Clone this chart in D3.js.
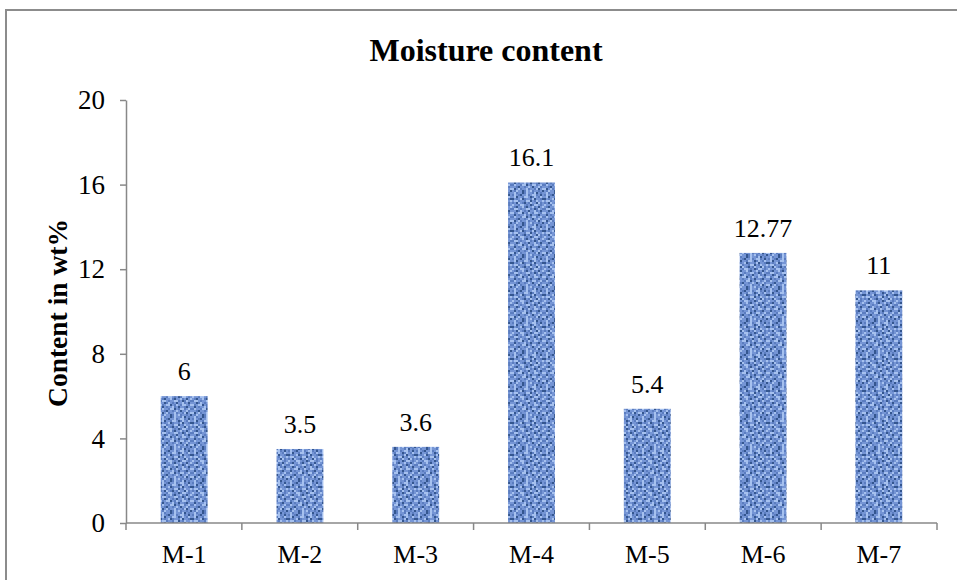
<!DOCTYPE html>
<html><head><meta charset="utf-8">
<script src="https://cdn.jsdelivr.net/npm/d3@7"></script>
<style>body{margin:0;background:#fff}svg{display:block}svg text{font-family:"Liberation Serif","Times New Roman",serif}</style>
</head><body>
<svg id="chart" width="957" height="580"></svg>
<script>
const categories = ["M-1","M-2","M-3","M-4","M-5","M-6","M-7"];
const values = [6, 3.5, 3.6, 16.1, 5.4, 12.77, 11];
const valueLabels = ["6","3.5","3.6","16.1","5.4","12.77","11"];
const yTicks = [0,4,8,12,16,20];
const title = "Moisture content";
const yTitle = "Content in wt%";

const svg = d3.select("#chart");
const W = 957, H = 580;
const m = {left:126, right:20, top:100, bottom:57};
const font = "Liberation Serif, Times New Roman, serif";

// border
svg.append("rect").attr("x",6).attr("y",10).attr("width",W+20).attr("height",H+20)
  .attr("fill","none").attr("stroke","#8c8c8c").attr("stroke-width",2);

// texture pattern (woven blue)
const defs = svg.append("defs");
const cs = 2;
const tile = [
 "BACBBDCABBCADBCB",
 "CABCDBBACBAACBDB",
 "BADBBCAABDCABCAB",
 "DBCBADCBBCADBBCD",
 "BAACBBCAADBCABBA",
 "CBDABCDBCABBDACB",
 "ABBCAABCBDCAABCB",
 "BCDBBACDBBACBDBA",
 "CAABCBBAACBDCABC",
 "BBDCABCBDBBACBDB",
 "ACBAADBCABCAABCA",
 "BDBCBBACBDBBCDBB",
 "CABBCAADBCAACBAC",
 "BBCDBBCBABDBBACB",
 "ADBACBBACBBCADBA",
 "BCABBDCABACBBCBD"];
const pat = defs.append("pattern").attr("id","weave").attr("patternUnits","userSpaceOnUse")
  .attr("width",16*cs).attr("height",16*cs);
const shade = {A:"#a6c1ef", B:"#7595d5", C:"#5b7dc0", D:"#34568f"};
tile.forEach((row,j)=>row.split("").forEach((c,i)=>{
  pat.append("rect").attr("x",i*cs).attr("y",j*cs).attr("width",cs).attr("height",cs).attr("fill",shade[c]);
}));

const x = d3.scaleBand().domain(categories).range([m.left, 937]).paddingInner(0.595).paddingOuter(0.3);
const y = d3.scaleLinear().domain([0,20]).range([523, 100]);

// bars
svg.append("g").selectAll("rect").data(values).join("rect")
  .attr("x",(d,i)=>x(categories[i])).attr("y",d=>y(d))
  .attr("width",x.bandwidth()).attr("height",d=>y(0)-y(d))
  .attr("fill","url(#weave)");

// y axis
const yAxis = svg.append("g").attr("transform",`translate(${m.left},0)`)
  .call(d3.axisLeft(y).tickValues(yTicks).tickSize(6).tickPadding(15).tickSizeOuter(0));
yAxis.attr("font-family",null);
yAxis.select(".domain").attr("stroke","#888").attr("stroke-width",1.5);
yAxis.selectAll(".tick line").attr("stroke","#888").attr("stroke-width",1.5);
yAxis.selectAll(".tick text").style("font-family",font).style("font-size","27px").attr("fill","#000");

// x axis
const xb = d3.scaleLinear().domain([0,7]).range([m.left,937]);
const xAxisG = svg.append("g").attr("transform",`translate(0,${y(0)})`);
xAxisG.append("line").attr("x1",m.left).attr("x2",937).attr("stroke","#888").attr("stroke-width",1.5);
xAxisG.selectAll("line.tk").data(d3.range(8)).join("line").attr("class","tk")
  .attr("x1",d=>xb(d)).attr("x2",d=>xb(d)).attr("y1",0).attr("y2",7)
  .attr("stroke","#888").attr("stroke-width",1.5);
xAxisG.selectAll("text").data(categories).join("text")
  .attr("x",d=>x(d)+x.bandwidth()/2).attr("y",40).attr("text-anchor","middle")
  .style("font-family",font).style("font-size","26px").attr("fill","#000").text(d=>d);

// value labels
svg.append("g").selectAll("text").data(values).join("text")
  .attr("x",(d,i)=>x(categories[i])+x.bandwidth()/2).attr("y",d=>y(d)-16)
  .attr("text-anchor","middle").style("font-family",font).style("font-size","26px").attr("fill","#000")
  .text((d,i)=>valueLabels[i]);

// title
svg.append("text").attr("x",486).attr("y",61).attr("text-anchor","middle")
  .style("font-family",font).style("font-size","32px").attr("font-weight","bold").text(title);
// y title
svg.append("text").attr("transform","translate(67,313) rotate(-90)").attr("text-anchor","middle")
  .style("font-family",font).style("font-size","27.5px").attr("font-weight","bold").text(yTitle);
</script>
</body></html>
